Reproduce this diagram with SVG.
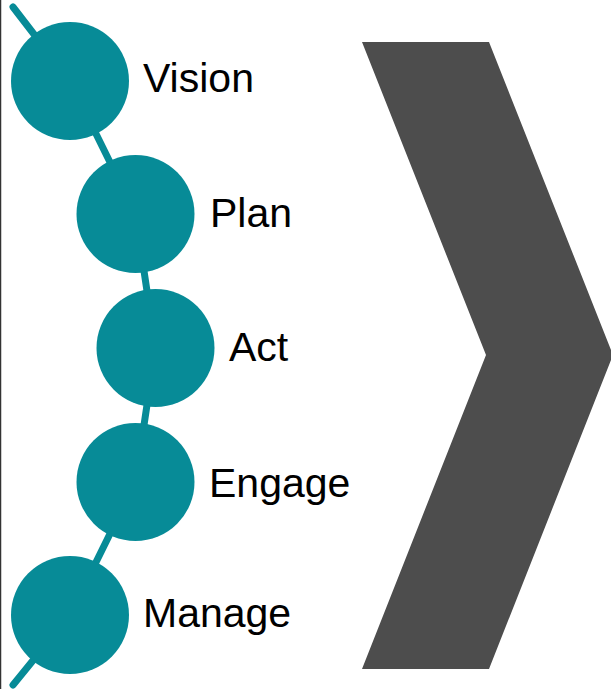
<svg xmlns="http://www.w3.org/2000/svg" width="611" height="689" viewBox="0 0 611 689">
  <style>
    .node circle { fill: #078B97; }
    .node text { font-family: "Liberation Sans", Arial, sans-serif; font-size: 41px; fill: #000000; }
    .conn { fill: none; stroke: #078B97; stroke-width: 7; stroke-linecap: round; stroke-linejoin: round; }
  </style>
  <rect x="0" y="0" width="611" height="689" fill="#ffffff"/>
  <line x1="0.5" y1="0" x2="0.5" y2="689" stroke="#333333" stroke-width="1.5"/>
  <polygon id="chevron" points="362,42 489,42 613,355 489,669 362,669 486,355" fill="#4D4D4D"/>
  <g id="connectors">
    <polyline class="conn" points="13,7 70,81 135.5,214 155.5,348 135.5,482 70,615 13,685"/>
  </g>
  <g id="vision" class="node">
    <circle cx="70" cy="81" r="59"/>
    <text x="143" y="92">Vision</text>
  </g>
  <g id="plan" class="node">
    <circle cx="135.5" cy="214" r="59"/>
    <text x="210" y="227">Plan</text>
  </g>
  <g id="act" class="node">
    <circle cx="155.5" cy="348" r="59"/>
    <text x="229" y="361">Act</text>
  </g>
  <g id="engage" class="node">
    <circle cx="135.5" cy="482" r="59"/>
    <text x="209" y="497">Engage</text>
  </g>
  <g id="manage" class="node">
    <circle cx="70" cy="615" r="59"/>
    <text x="143" y="627">Manage</text>
  </g>
</svg>
